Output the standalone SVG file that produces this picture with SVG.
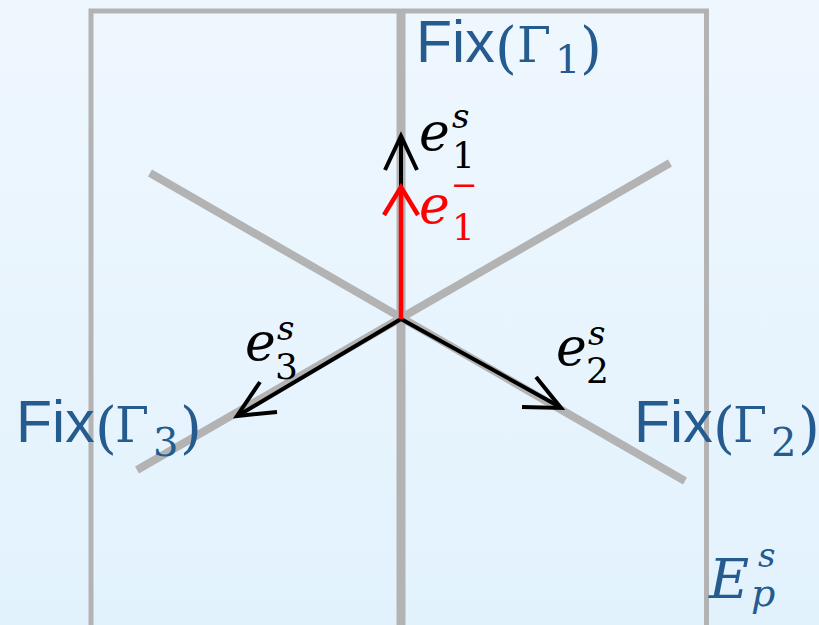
<svg xmlns="http://www.w3.org/2000/svg" width="819" height="625" viewBox="0 0 819 625">
<defs>
<linearGradient id="bg" x1="0" y1="0" x2="0" y2="1">
<stop offset="0" stop-color="#EFF7FE"/>
<stop offset="1" stop-color="#E2F2FD"/>
</linearGradient>
<style>
.frame{fill:none;stroke:#B3B3B3;stroke-width:5}
.fix{fill:none;stroke:#B3B3B3;stroke-width:8}
.vec{fill:none;stroke:#000;stroke-width:4;stroke-linejoin:miter}
.red{fill:none;stroke:#FF0000;stroke-width:4.5;stroke-linejoin:miter}
</style>
</defs>
<rect width="819" height="625" fill="url(#bg)"/>
<g id="space">
<rect class="frame" x="91" y="11" width="615.5" height="700"/>
</g>
<g id="fixlines">
<line class="fix" x1="401" y1="11" x2="401" y2="625" style="stroke-width:9"/>
<line class="fix" x1="150" y1="173" x2="685" y2="481"/>
<line class="fix" x1="137" y1="470" x2="670" y2="163"/>
</g>
<g id="connectors">
<line class="vec" x1="401" y1="319" x2="401" y2="137"/>
<polyline class="vec" points="385,170 401,136 417,170"/>
<line class="vec" x1="401" y1="319" x2="560" y2="407"/>
<polyline class="vec" points="522,407 561,408 536,377"/>
<line class="vec" x1="401" y1="319" x2="239" y2="415"/>
<polyline class="vec" points="260,382 237,416 277,412"/>
<line class="red" x1="401" y1="319" x2="401" y2="189"/>
<polyline class="red" points="384,215 401,187 418,215"/>
</g>
<g id="fixlabels" fill="#255B8F">
<g id="label-fix1">
<text font-family="'Liberation Sans', sans-serif" x="416" y="62" font-size="59">Fix</text>
<text font-family="'DejaVu Serif', serif" x="495" y="67" font-size="56">(</text>
<text font-family="'DejaVu Serif', serif" x="517" y="62" font-size="49">Γ</text>
<text font-family="'DejaVu Serif', serif" x="555" y="73" font-size="40">1</text>
<text font-family="'DejaVu Serif', serif" x="580" y="67" font-size="56">)</text>
</g>
<g id="label-fix3">
<text font-family="'Liberation Sans', sans-serif" x="16" y="442" font-size="59">Fix</text>
<text font-family="'DejaVu Serif', serif" x="95" y="447" font-size="56">(</text>
<text font-family="'DejaVu Serif', serif" x="115" y="442" font-size="49">Γ</text>
<text font-family="'DejaVu Serif', serif" x="153" y="456" font-size="40">3</text>
<text font-family="'DejaVu Serif', serif" x="180" y="447" font-size="56">)</text>
</g>
<g id="label-fix2">
<text font-family="'Liberation Sans', sans-serif" x="634" y="442" font-size="59">Fix</text>
<text font-family="'DejaVu Serif', serif" x="713" y="447" font-size="56">(</text>
<text font-family="'DejaVu Serif', serif" x="733" y="442" font-size="49">Γ</text>
<text font-family="'DejaVu Serif', serif" x="771" y="456" font-size="40">2</text>
<text font-family="'DejaVu Serif', serif" x="798" y="447" font-size="56">)</text>
</g>
</g>
<g font-family="'DejaVu Serif', serif">
<g id="label-e1s">
<text font-style="italic" x="419" y="150" font-size="52">e</text>
<text x="452" y="168" font-size="36">1</text>
<text font-style="italic" x="452" y="128" font-size="34">s</text>
</g>
<g id="label-e1m" fill="#FF0000">
<text font-style="italic" x="419" y="223" font-size="52">e</text>
<text x="452" y="240" font-size="36">1</text>
<text x="451" y="196" font-size="32">−</text>
</g>
<g id="label-e3s">
<text font-style="italic" x="245" y="360" font-size="52">e</text>
<text x="275" y="379" font-size="36">3</text>
<text font-style="italic" x="277" y="340" font-size="34">s</text>
</g>
<g id="label-e2s">
<text font-style="italic" x="556" y="365" font-size="52">e</text>
<text x="586" y="383" font-size="36">2</text>
<text font-style="italic" x="588" y="345" font-size="34">s</text>
</g>
<g id="label-eps" fill="#255B8F" font-style="italic">
<text x="709" y="598" font-size="55">E</text>
<text x="758" y="567" font-size="34">s</text>
<text x="751" y="606" font-size="38">p</text>
</g>
</g>
</svg>
